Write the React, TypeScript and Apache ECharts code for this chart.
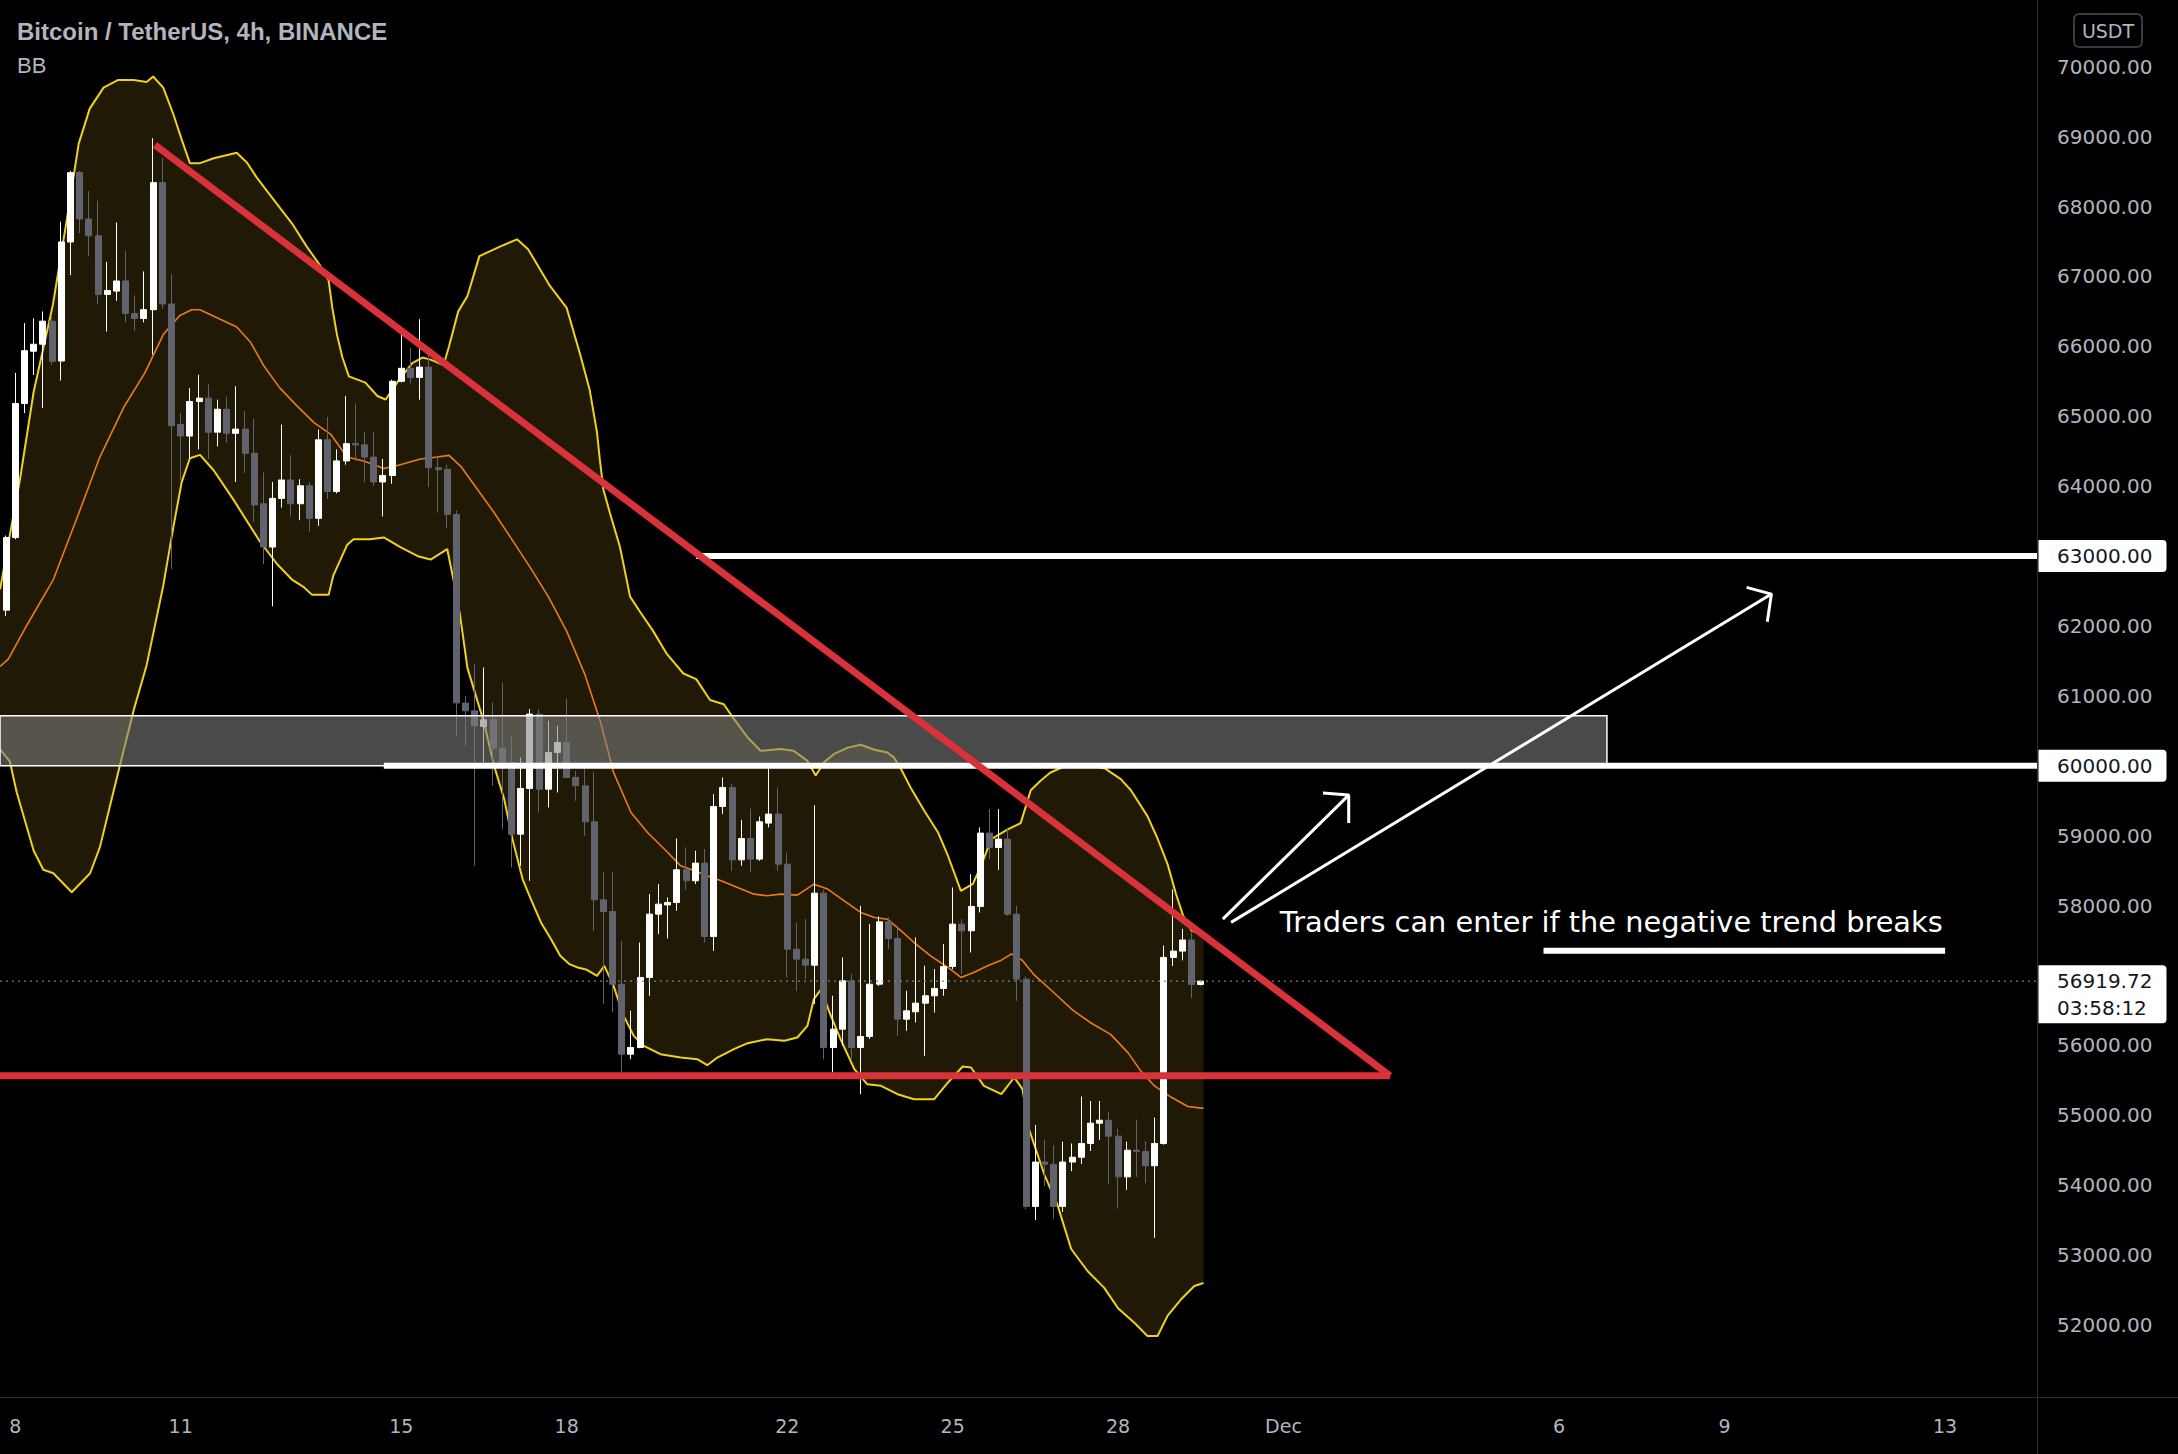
import React, { useEffect, useRef } from "react";
import * as echarts from "echarts";

// ---------------- data (4h candles, index 0 = Nov 8 00:00) ----------------
const FIRST_CANDLE = -2;
const opens = [
  61880, 62226, 63266, 65183, 65930, 66030, 66360, 65790, 67493, 68484, 67821, 67581,
  66743, 66790, 66935, 66469, 66398, 66524, 68342, 66606, 64881, 64717,
  65210, 65259, 64772, 65100, 64756, 64816, 64471, 63748, 63129, 63825,
  64088, 63748, 64005, 63540, 64663, 63924, 64361, 64608, 64591, 64416,
  64060, 64153, 65500, 65686, 65555, 65703, 64263, 64241, 63595, 60897,
  60787, 60563, 60658, 60250, 60048, 59022, 59676, 60739, 59666, 60191,
  60334, 59833, 59714, 59199, 58083, 57916, 56876, 55875, 55970, 56972,
  57878, 58010, 58045, 58512, 58355, 58608, 57558, 59418, 59690, 58655,
  58960, 58665, 59180, 59309, 58593, 57377, 57234, 57148, 58178, 55970,
  56233, 56924, 55970, 56128, 56876, 57768, 57530, 56376, 56481, 56605,
  56710, 56815, 57129, 57735, 57640, 57988, 59037, 58832, 58951, 57878,
  56948, 53697, 54332, 54300, 53697, 54332, 54401, 54597, 54888, 54930,
  54702, 54120, 54501, 54485, 54279, 54597, 57259, 57349, 57508, 56872,
];
const closes = [
  62226, 63266, 65183, 65938, 66030, 66360, 65785, 67493, 68484, 67821, 67581, 66743,
  66798, 66935, 66469, 66398, 66524, 68342, 66606, 64865, 64717, 65210,
  65259, 64772, 65100, 64756, 64816, 64471, 63732, 63129, 63825, 64088,
  63748, 64005, 63540, 64663, 63924, 64361, 64608, 64591, 64416, 64060,
  64153, 65500, 65686, 65555, 65703, 64263, 64235, 63595, 60900, 60787,
  60572, 60658, 60250, 60048, 59022, 59676, 60739, 59666, 60191, 60334,
  59833, 59714, 59199, 58083, 57916, 56876, 55875, 55970, 56972, 57878,
  58021, 58045, 58512, 58355, 58608, 57558, 59418, 59690, 58655, 58960,
  58665, 59199, 59309, 58593, 57377, 57234, 57148, 58178, 55970, 56233,
  56924, 55970, 56128, 56876, 57768, 57530, 56376, 56495, 56605, 56710,
  56815, 57129, 57735, 57640, 57988, 59037, 58832, 58951, 57878, 56948,
  53697, 54332, 54300, 53697, 54332, 54401, 54597, 54888, 54930, 54702,
  54120, 54501, 54485, 54279, 54597, 57259, 57349, 57508, 56872, 56920,
];
const lows = [
  61800, 62144, 63240, 65046, 65590, 65120, 65730, 65511, 67017, 67619, 67290, 66606,
  66212, 66650, 66343, 66223, 66343, 65883, 66540, 62817, 64088, 64389,
  64526, 64389, 64569, 64624, 64060, 64186, 63485, 62883, 62281, 63693,
  63567, 63513, 63348, 63431, 63814, 63896, 64307, 64361, 64060, 64005,
  63567, 64033, 65484, 65467, 65237, 63989, 63622, 63403, 60430, 60286,
  58570, 60048, 59714, 59094, 58546, 58569, 58355, 59332, 59404, 59619,
  59830, 59499, 58999, 57639, 56590, 56471, 55613, 55803, 55960, 56710,
  57592, 57530, 57926, 58226, 58307, 57472, 57353, 59309, 58498, 58569,
  58483, 58641, 59118, 58498, 56972, 56781, 56948, 56590, 55803, 55613,
  55994, 55803, 55302, 56090, 56852, 57377, 56137, 56209, 56328, 55851,
  56471, 56710, 57091, 57019, 57329, 57902, 58665, 58512, 57854, 56638,
  53660, 53501, 53987, 53522, 53617, 54200, 54305, 54490, 54650, 54014,
  53670, 53935, 54120, 54030, 53247, 54580, 57137, 57216, 56677, 56860,
];
const highs = [
  62260, 63294, 65620, 66332, 66400, 66500, 66430, 67783, 68511, 68511, 68221, 68084,
  67208, 67772, 67362, 66727, 67071, 68977, 68698, 67033, 65046, 65402,
  65593, 65456, 65237, 65281, 65429, 65073, 64964, 64197, 64060, 64881,
  64443, 64099, 64060, 64810, 64991, 64526, 65292, 65183, 64772, 64772,
  64389, 65522, 66196, 65976, 66387, 65922, 64416, 64307, 63650, 61000,
  61460, 61406, 60906, 61190, 60429, 60119, 60811, 60811, 60644, 60572,
  60963, 59929, 59952, 59905, 58483, 58483, 57496, 56495, 57472, 58164,
  58307, 58116, 58960, 58832, 58784, 58808, 59595, 59833, 59738, 59227,
  59390, 59275, 60010, 59690, 58760, 57759, 57806, 59437, 58226, 56710,
  57258, 57019, 57997, 57735, 57845, 57830, 57711, 56781, 57544, 57139,
  57091, 57449, 58259, 57806, 58450, 59118, 59380, 59380, 59118, 57997,
  56990, 54861, 54650, 54570, 54623, 54597, 55269, 55205, 55205, 55046,
  54808, 54623, 54940, 54634, 54967, 57428, 58233, 57666, 57613, 56930,
];

// Bollinger band readings: [candle index, price]
const upperBand = [
  [-1.66, 62520], [-0.6, 63300], [0.5, 64090], [2.0, 65350], [4.1, 66600], [5.6, 67810],
  [6.9, 68900], [8.1, 69400], [9.6, 69700], [11.2, 69810], [12.9, 69810], [14.3, 69780],
  [15.0, 69860], [16.1, 69700], [17.2, 69320], [18.1, 68960], [19.0, 68620], [20.1, 68620],
  [21.6, 68690], [24.1, 68770], [25.2, 68630], [26.3, 68410], [27.4, 68220], [28.8, 67980],
  [30.1, 67760], [31.7, 67430], [33.2, 67150], [34.1, 66940], [34.5, 66550], [35.0, 66170],
  [35.6, 65840], [36.3, 65570], [38.1, 65480], [39.4, 65290], [40.3, 65240], [41.7, 65510],
  [43.2, 65760], [44.3, 65840], [45.2, 65810], [46.6, 65730], [47.2, 66000], [48.2, 66500],
  [49.2, 66720], [50.5, 67290], [52.8, 67430], [54.6, 67530], [55.8, 67390], [58.1, 66880],
  [60.0, 66550], [61.5, 65870], [62.5, 65380], [63.3, 64770], [63.6, 64390], [64.0, 63950],
  [64.7, 63620], [65.8, 63130], [66.9, 62420], [68.0, 62200], [69.4, 61930], [70.9, 61600],
  [72.7, 61320], [74.1, 61240], [75.6, 60940], [77.1, 60880], [78.2, 60670], [79.7, 60405],
  [81.1, 60215], [83.3, 60240], [84.7, 60215], [86.2, 60070], [87.1, 59860], [88.0, 60050],
  [89.1, 60170], [90.6, 60260], [92.0, 60300], [93.5, 60230], [94.9, 60190], [95.6, 60120],
  [96.4, 59950], [97.5, 59670], [98.9, 59360], [100.4, 59050], [101.5, 58710], [102.9, 58210],
  [104.2, 58310], [105.1, 58570], [106.2, 58950], [108.0, 59090], [109.4, 59180], [110.2, 59520],
  [110.5, 59650], [111.6, 59790], [112.6, 59900], [114.1, 59990], [116.3, 60020], [118.6, 59960],
  [120.3, 59810], [121.4, 59650], [123.2, 59280], [124.3, 58960], [125.4, 58590], [126.3, 58170],
  [127.1, 57850], [128.0, 57640], [129.3, 57590],
];
const basisLine = [
  [-1.66, 61420], [-0.76, 61525], [1.24, 62007], [4.14, 62664], [6.7, 63540], [9.2, 64416],
  [11.8, 65128], [14.1, 65620], [16.1, 66168], [17.9, 66442], [19.2, 66524], [20.1, 66524],
  [22.3, 66387], [24.1, 66277], [25.6, 66058], [27.0, 65730], [28.8, 65402], [30.6, 65155],
  [32.5, 64909], [34.3, 64745], [36.1, 64416], [37.9, 64361], [40.1, 64252], [41.9, 64307],
  [44.1, 64389], [45.9, 64416], [47.2, 64440], [48.5, 64280], [50.0, 64007], [52.1, 63623],
  [54.3, 63185], [56.2, 62802], [58.0, 62419], [60.0, 61926], [62.0, 61300], [63.7, 60620],
  [65.1, 59905], [67.0, 59332], [68.8, 59046], [71.0, 58760], [72.4, 58569], [73.9, 58498],
  [75.3, 58426], [76.8, 58355], [78.6, 58259], [80.4, 58164], [81.8, 58140], [83.3, 58164],
  [85.1, 58150], [86.9, 58307], [88.4, 58236], [90.2, 58069], [92.0, 57902], [93.5, 57830],
  [94.9, 57806], [96.4, 57639], [97.8, 57472], [99.6, 57282], [101.5, 57115], [102.9, 56972],
  [104.3, 57043], [105.8, 57139], [107.3, 57220], [108.4, 57310], [109.6, 57215], [110.9, 57005],
  [112.7, 56793], [115.1, 56502], [117.1, 56317], [119.2, 56158], [121.1, 55893], [122.5, 55629],
  [124.0, 55417], [125.8, 55258], [127.6, 55126], [129.3, 55099],
];
const lowerBand = [
  [-1.66, 60236], [-0.6, 60064], [0.15, 59621], [2.0, 58784], [3.05, 58513], [4.14, 58463],
  [6.14, 58192], [8.14, 58463], [9.2, 58833], [10.3, 59424], [11.4, 60015], [12.9, 60803],
  [14.3, 61443], [16.1, 62576], [17.2, 63414], [18.1, 64054], [19.0, 64399], [20.1, 64448],
  [21.6, 64224], [23.7, 63814], [26.6, 63212], [28.5, 62883], [30.1, 62664], [31.4, 62555],
  [32.3, 62445], [34.1, 62445], [34.6, 62719], [36.1, 63157], [36.8, 63239], [38.6, 63239],
  [40.1, 63266], [41.9, 63129], [43.9, 62993], [45.2, 62950], [47.0, 63100], [47.7, 62650],
  [48.4, 62150], [49.2, 61400], [49.9, 61097], [51.0, 60620], [52.1, 60000], [53.2, 59523],
  [54.1, 58951], [55.2, 58379], [56.1, 58092], [57.2, 57759], [58.3, 57520], [59.3, 57282],
  [60.3, 57162], [61.2, 57115], [62.2, 57082], [63.3, 56996], [64.1, 57139], [65.1, 56852],
  [66.2, 56423], [67.3, 56137], [68.4, 55994], [70.2, 55875], [72.4, 55827], [74.2, 55803],
  [75.3, 55717], [76.4, 55827], [78.2, 55946], [79.7, 56032], [81.8, 56089], [83.7, 56066],
  [85.1, 56113], [86.2, 56280], [86.9, 56662], [87.7, 56805], [88.6, 56471], [89.8, 56089],
  [91.3, 55660], [92.7, 55446], [94.2, 55422], [96.0, 55302], [97.8, 55231], [100.0, 55231],
  [101.5, 55470], [103.1, 55698], [104.0, 55684], [105.4, 55422], [107.3, 55302], [108.7, 55541],
  [109.6, 55374], [110.3, 54802], [112.0, 54146], [113.4, 53723], [114.9, 53088], [116.7, 52770],
  [118.5, 52532], [120.0, 52241], [121.8, 52029], [123.2, 51844], [124.3, 51844], [125.4, 52135],
  [126.9, 52373], [128.3, 52559], [129.3, 52601],
];

// axis ticks
const xTickValues = [0, 18, 42, 60, 84, 102, 120, 138, 168, 186, 210];
const xTickLabels = ["8", "11", "15", "18", "22", "25", "28", "Dec", "6", "9", "13"];
const yTickValues = [52000, 53000, 54000, 55000, 56000, 58000, 59000, 61000, 62000, 64000, 65000, 66000, 67000, 68000, 69000, 70000];

// drawings
const lastPrice = 56919.72;
const countdown = "03:58:12";
const levelPrices = [63000, 60000];
const levelStarts = [74.1, 40.1];
const supportPrice = 55565;
const supportEnd = 149.6;
const trendLine = [[15.2, 68880], [149.6, 55565]];
const zoneX = [-3, 173.2];
const zoneY = [60000, 60715];
const arrowShortShaft = [[131.4, 57807], [145.1, 59581]];
const arrowShortHead = [[142.3, 59610], [145.1, 59581], [145.1, 59180]];
const arrowLongShaft = [[132.3, 57760], [191.1, 62456]];
const arrowLongHead = [[188.4, 62552], [191.1, 62456], [190.65, 62060]];
const noteText = "Traders can enter if the negative trend breaks";
const notePoint = [137.6, 57765];
const noteUnderline = [[166.3, 57354], [210.0, 57354]];

const X_MIN = -1.665;
const X_MAX = 220.0;
const Y_MIN = 50971;
const Y_MAX = 70954;

const TXT = "#b2b5be";
const UP = "#ffffff";
const DOWN = "#60636e";
const RED = "#d9323a";
const YELLOW = "#f0d21a";
const ORANGE = "#ee7a18";

function lineSeries(data: number[][], color: string, width: number, z: number, type: any = "solid") {
  return {
    type: "line",
    data,
    showSymbol: false,
    symbol: "none",
    silent: true,
    z,
    lineStyle: { color, width, type, cap: "butt" },
    emphasis: { disabled: true },
  };
}

export default function App() {
  const ref = useRef<HTMLDivElement>(null);
  useEffect(() => {
    if (!ref.current) return;
    const chart = echarts.init(ref.current, undefined, { renderer: "svg" });
    const candles = opens.map((o, k) => [FIRST_CANDLE + k, o, closes[k], lows[k], highs[k]]);

    const option: any = {
      animation: false,
      backgroundColor: "#000000",
      grid: { left: 0, right: 141, top: 0, bottom: 57, containLabel: false },
      xAxis: {
        type: "value",
        min: X_MIN,
        max: X_MAX,
        axisLine: { show: false },
        axisTick: { show: false },
        splitLine: { show: false },
        axisLabel: {
          customValues: xTickValues,
          formatter: (v: number) => {
            const i = xTickValues.indexOf(Math.round(v));
            return i >= 0 ? xTickLabels[i] : "";
          },
          color: TXT,
          fontFamily: "DejaVu Sans",
          fontSize: 19,
          margin: 19,
        },
      },
      yAxis: {
        type: "value",
        position: "right",
        min: Y_MIN,
        max: Y_MAX,
        axisLine: { show: false },
        axisTick: { show: false },
        splitLine: { show: false },
        axisLabel: {
          customValues: yTickValues,
          formatter: (v: number) => v.toFixed(2),
          color: TXT,
          fontFamily: "DejaVu Sans",
          fontSize: 20,
          margin: 20,
        },
      },
      series: [
        {
          type: "custom",
          silent: true,
          z: 1,
          data: [[0, 0]],
          renderItem: (params: any, api: any) => {
            const pts = upperBand
              .map((p) => api.coord(p))
              .concat(lowerBand.slice().reverse().map((p) => api.coord(p)));
            return { type: "polygon", shape: { points: pts }, style: { fill: "#201905" } };
          },
        },
        lineSeries(upperBand, YELLOW, 2, 2),
        lineSeries(lowerBand, YELLOW, 2, 2),
        lineSeries(basisLine, ORANGE, 1.6, 2),
        {
          type: "candlestick",
          data: candles,
          barWidth: 6.5,
          silent: true,
          z: 3,
          itemStyle: {
            color: UP,
            color0: DOWN,
            borderColor: UP,
            borderColor0: DOWN,
            borderWidth: 1,
          },
        },
        lineSeries([[X_MIN, lastPrice], [X_MAX, lastPrice]], "#7d8089", 1.2, 4, [2, 4]),
        {
          type: "custom",
          silent: true,
          z: 4,
          data: [[0, 0]],
          renderItem: (params: any, api: any) => {
            const a = api.coord([zoneX[0], zoneY[1]]);
            const b = api.coord([zoneX[1], zoneY[0]]);
            const shape = echarts.graphic.clipRectByRect(
              { x: a[0], y: a[1], width: b[0] - a[0], height: b[1] - a[1] },
              { x: params.coordSys.x, y: params.coordSys.y, width: params.coordSys.width, height: params.coordSys.height }
            );
            return {
              type: "rect",
              shape,
              style: { fill: "rgba(128,128,128,0.58)", stroke: "#ffffff", lineWidth: 1.5 },
            };
          },
        },
        lineSeries([[levelStarts[0], levelPrices[0]], [X_MAX, levelPrices[0]]], "#ffffff", 6, 5),
        lineSeries([[levelStarts[1], levelPrices[1]], [X_MAX, levelPrices[1]]], "#ffffff", 6, 5),
        lineSeries([[X_MIN, supportPrice], [supportEnd, supportPrice]], RED, 7, 5),
        lineSeries(trendLine, RED, 7, 5),
        lineSeries(arrowShortShaft, "#ffffff", 3, 5),
        lineSeries(arrowShortHead, "#ffffff", 3, 5),
        lineSeries(arrowLongShaft, "#ffffff", 3, 5),
        lineSeries(arrowLongHead, "#ffffff", 3, 5),
        lineSeries(noteUnderline, "#ffffff", 6, 5),
        {
          type: "custom",
          silent: true,
          z: 6,
          data: [[0, 0]],
          renderItem: (params: any, api: any) => {
            const p = api.coord(notePoint);
            return {
              type: "text",
              x: p[0],
              y: p[1],
              style: {
                text: noteText,
                fill: "#ffffff",
                font: '28.8px "DejaVu Sans"',
                textAlign: "left",
                textVerticalAlign: "middle",
                align: "left",
                verticalAlign: "middle",
              },
            };
          },
        },
      ],
    };
    chart.setOption(option);

    const yPix = (v: number) => chart.convertToPixel({ yAxisIndex: 0 }, v) as number;
    const axisX = 2037.5;
    const badge = (y: number, label: string) => [
      { type: "rect", shape: { x: axisX + 1, y: y - 16, width: 128, height: 32, r: [0, 4, 4, 0] }, style: { fill: "#ffffff" }, z: 100 },
      { type: "text", x: 2057, y: y, style: { text: label, fill: "#131722", font: '20px "DejaVu Sans"', textVerticalAlign: "middle", verticalAlign: "middle" }, z: 101 },
    ];
    const yLast = yPix(lastPrice);
    const graphic: any[] = [
      { type: "line", shape: { x1: 0, y1: 1397.5, x2: 2178, y2: 1397.5 }, style: { stroke: "#2e2e2e", lineWidth: 1 }, z: 90 },
      { type: "line", shape: { x1: axisX, y1: 0, x2: axisX, y2: 1454 }, style: { stroke: "#2e2e2e", lineWidth: 1 }, z: 90 },
      { type: "text", x: 17, y: 31, style: { text: "Bitcoin / TetherUS, 4h, BINANCE", fill: TXT, font: 'bold 24px "Liberation Sans"', textVerticalAlign: "middle", verticalAlign: "middle" }, z: 100 },
      { type: "text", x: 17, y: 65, style: { text: "BB", fill: TXT, font: '22px "Liberation Sans"', textVerticalAlign: "middle", verticalAlign: "middle" }, z: 100 },
      { type: "rect", shape: { x: 2074, y: 14, width: 68, height: 33, r: 5 }, style: { fill: "#000000", stroke: "#4a4d57", lineWidth: 1.5 }, z: 100 },
      { type: "text", x: 2108, y: 30.5, style: { text: "USDT", fill: TXT, font: '19px "DejaVu Sans"', textAlign: "center", align: "center", textVerticalAlign: "middle", verticalAlign: "middle" }, z: 101 },
      ...badge(yPix(levelPrices[0]), levelPrices[0].toFixed(2)),
      ...badge(yPix(levelPrices[1]), levelPrices[1].toFixed(2)),
      { type: "rect", shape: { x: axisX + 1, y: yLast - 16, width: 128, height: 58, r: [0, 4, 4, 0] }, style: { fill: "#ffffff" }, z: 100 },
      { type: "text", x: 2057, y: yLast, style: { text: lastPrice.toFixed(2), fill: "#131722", font: '20px "DejaVu Sans"', textVerticalAlign: "middle", verticalAlign: "middle" }, z: 101 },
      { type: "text", x: 2057, y: yLast + 27, style: { text: countdown, fill: "#131722", font: '20px "DejaVu Sans"', textVerticalAlign: "middle", verticalAlign: "middle" }, z: 101 },
    ];
    chart.setOption({ graphic });

    return () => chart.dispose();
  }, []);

  return (
    <div
      ref={ref}
      style={{ position: "fixed", left: 0, top: 0, width: 2178, height: 1454, background: "#000" }}
    />
  );
}
